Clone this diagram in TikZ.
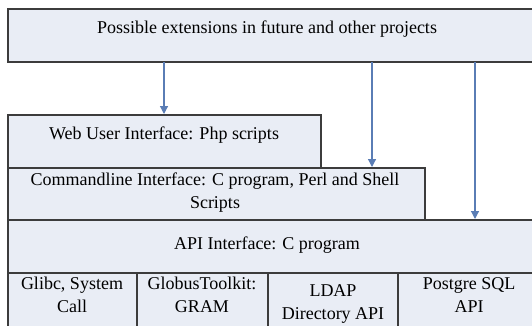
\documentclass[tikz,border=0pt]{standalone}
\usepackage{fontspec}
\setmainfont{Liberation Serif}
\usetikzlibrary{arrows.meta}
\definecolor{boxfill}{HTML}{E9EDF5}
\definecolor{boxline}{HTML}{3C3C3C}
\definecolor{arrowc}{HTML}{5A7DB5}
\newcommand{\twoline}[2]{{\setlength{\tabcolsep}{0pt}\begin{tabular}[t]{c}#1\\#2\end{tabular}}}
\begin{document}
\begin{tikzpicture}[x=1pt,y=-1pt,
  box/.style={draw=boxline,fill=boxfill,line width=1.4pt},
  lbl/.style={anchor=base,inner sep=0pt,font=\fontsize{18}{23}\selectfont},
  arr/.style={draw=arrowc,line width=1.2pt,-{Triangle[length=8pt,width=8pt]}}]
\useasboundingbox (0,0) rectangle (532,325);
\clip (0,0) rectangle (532,325);
% boxes
\path[box] (8,9) rectangle (545,62);
\path[box] (8,115) rectangle (321,168);
\path[box] (8,168) rectangle (425,220);
\path[box] (8,220) rectangle (545,273);
\path[box] (8,273) rectangle (137,335);
\path[box] (137,273) rectangle (268,335);
\path[box] (268,273) rectangle (398,335);
\path[box] (398,273) rectangle (545,335);
% named anchors for connectors
\coordinate (top1) at (164,62);
\coordinate (top2) at (372,62);
\coordinate (top3) at (475,62);
\coordinate (web) at (164,114);
\coordinate (cmd) at (372,167);
\coordinate (api) at (475,219);
% labels
\node[lbl] (tPoss) at (267,33) {Possible extensions in future and other projects};
\node[lbl] (tWeb) at (164,139) {Web User Interface: Php scripts};
\node[lbl] (tCmd) at (215,185) {\twoline{Commandline Interface: C program, Perl and Shell}{Scripts}};
\node[lbl] (tApi) at (267,249) {API Interface: C program};
\node[lbl] (tGlibc) at (72,289) {\twoline{Glibc, System}{Call}};
\node[lbl] (tGlobus) at (202,289) {\twoline{GlobusToolkit:}{GRAM}};
\node[lbl] (tLdap) at (333,296) {\twoline{LDAP}{Directory API}};
\node[lbl] (tPg) at (469,289) {\twoline{Postgre SQL}{API}};
% arrows
\draw[arr] (top1) -- (web);
\draw[arr] (top2) -- (cmd);
\draw[arr] (top3) -- (api);
\end{tikzpicture}
\end{document}
